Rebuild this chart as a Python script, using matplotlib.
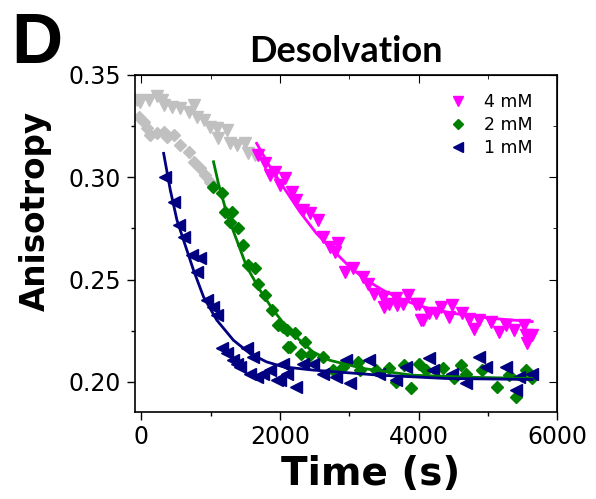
import matplotlib
matplotlib.use("Agg")
import matplotlib.pyplot as plt
from matplotlib.ticker import MultipleLocator, FormatStrFormatter

plt.rcParams["font.family"] = ["DejaVu Sans"]

# ---- data: fluorescence anisotropy vs time ----
# 4 mM: gray points before the jump, magenta after
t_4mM_pre = [-62, -14, 105, 225, 297, 320, 440, 560, 679, 751, 800, 895, 991,
             1087, 1110, 1230, 1278, 1374, 1493, 1541, 1637]
r_4mM_pre = [0.3378, 0.3370, 0.3378, 0.3398, 0.3378, 0.3353, 0.3345, 0.3337,
             0.3321, 0.3353, 0.3296, 0.3280, 0.3247, 0.3239, 0.3190, 0.3231,
             0.3166, 0.3158, 0.3166, 0.3117, 0.3109]
t_4mM = [1685, 1781, 1852, 1924, 1996, 2068, 2164, 2236, 2331, 2427, 2546,
         2618, 2714, 2786, 2833, 2929, 3049, 3193, 3265, 3360, 3480, 3500,
         3576, 3672, 3690, 3767, 3839, 3959, 4006, 4031, 4054, 4150, 4246,
         4318, 4437, 4485, 4628, 4725, 4796, 4868, 5036, 5156, 5252, 5371,
         5514, 5539, 5560, 5634]
r_4mM = [0.3109, 0.3068, 0.3011, 0.3027, 0.2962, 0.2995, 0.2929, 0.2889,
         0.2840, 0.2824, 0.2791, 0.2710, 0.2661, 0.2636, 0.2677, 0.2538,
         0.2555, 0.2514, 0.2481, 0.2432, 0.2416, 0.2367, 0.2383, 0.2408,
         0.2375, 0.2383, 0.2424, 0.2383, 0.2383, 0.2302, 0.2302, 0.2335,
         0.2335, 0.2367, 0.2318, 0.2375, 0.2335, 0.2310, 0.2261, 0.2302,
         0.2294, 0.2245, 0.2278, 0.2253, 0.2278, 0.2229, 0.2188, 0.2229]

# 2 mM: gray points before the jump, green after
t_2mM_pre = [-39, 33, 81, 129, 225, 320, 369, 465, 560, 679, 751, 847, 919, 991]
r_2mM_pre = [0.3296, 0.3272, 0.3239, 0.3207, 0.3215, 0.3223, 0.3198, 0.3207,
             0.3158, 0.3125, 0.3076, 0.3044, 0.3011, 0.2978]
t_2mM = [1039, 1158, 1206, 1278, 1302, 1397, 1469, 1541, 1637, 1685, 1780,
         1877, 1972, 2044, 2092, 2115, 2140, 2211, 2307, 2355, 2427, 2618,
         2762, 2905, 3121, 3145, 3385, 3576, 3672, 3791, 3887, 4006, 4102,
         4342, 4509, 4605, 4677, 4916, 5132, 5300, 5395, 5539, 5634]
r_2mM = [0.2954, 0.2921, 0.2832, 0.2783, 0.2832, 0.2750, 0.2669, 0.2571,
         0.2555, 0.2481, 0.2424, 0.2351, 0.2278, 0.2269, 0.2253, 0.2172,
         0.2171, 0.2237, 0.2139, 0.2196, 0.2131, 0.2122, 0.2058, 0.2074,
         0.2098, 0.2058, 0.2058, 0.2066, 0.2000, 0.2082, 0.1968, 0.2090,
         0.2058, 0.2066, 0.2017, 0.2082, 0.2041, 0.2058, 0.1976, 0.2033,
         0.1927, 0.2058, 0.2017]

# 1 mM: navy
t_1mM = [345, 464, 536, 607, 728, 847, 800, 943, 1039, 1087, 1158, 1230,
         1326, 1374, 1422, 1518, 1565, 1613, 1661, 1757, 1852, 1948, 1996,
         2044, 2092, 2236, 2331, 2474, 2618, 2810, 2954, 3001, 3288, 3432,
         3672, 3815, 4150, 4198, 4485, 4677, 4868, 4964, 5252, 5395, 5443,
         5634]
r_1mM = [0.3000, 0.2880, 0.2767, 0.2710, 0.2620, 0.2604, 0.2538, 0.2400,
         0.2367, 0.2326, 0.2164, 0.2140, 0.2106, 0.2090, 0.2074, 0.2164,
         0.2041, 0.2122, 0.2025, 0.2041, 0.2058, 0.2009, 0.2009, 0.2090,
         0.2041, 0.1976, 0.2090, 0.2090, 0.2041, 0.2025, 0.2106, 0.1993,
         0.2106, 0.2041, 0.2009, 0.2074, 0.2115, 0.2058, 0.2041, 0.1993,
         0.2122, 0.2074, 0.2074, 0.1960, 0.2025, 0.2041]

# fitted decay curves
fit_t_4mM = [1661, 1852, 2044, 2283, 2523, 2762, 3001, 3241, 3480, 3719,
             3959, 4150, 4500, 5000, 5634]
fit_r_4mM = [0.3166, 0.3052, 0.2954, 0.2832, 0.2726, 0.2644, 0.2563, 0.2498,
             0.2449, 0.2408, 0.2378, 0.2359, 0.2335, 0.2312, 0.2295]
fit_t_2mM = [1039, 1110, 1230, 1374, 1518, 1709, 1900, 2092, 2283, 2474,
             2714, 3193, 3911, 4868, 5634]
fit_r_2mM = [0.3076, 0.2970, 0.2824, 0.2693, 0.2563, 0.2449, 0.2351, 0.2269,
             0.2204, 0.2147, 0.2106, 0.2066, 0.2033, 0.2022, 0.2017]
fit_t_1mM = [320, 416, 512, 607, 751, 895, 1087, 1326, 1565, 1805, 2044,
             2474, 3432, 4390, 5634]
fit_r_1mM = [0.3117, 0.2938, 0.2791, 0.2693, 0.2546, 0.2416, 0.2302, 0.2204,
             0.2139, 0.2098, 0.2074, 0.2058, 0.2033, 0.2017, 0.2012]

labels = ["4 mM", "2 mM", "1 mM"]

C4, C2, C1, CG = "#FF00FF", "#008000", "#000080", "#C0C0C0"

fig = plt.figure(figsize=(5.96, 4.99), dpi=100)
ax = fig.add_axes([0.2257, 0.1743, 0.7097, 0.6754])

ax.plot(t_4mM_pre, r_4mM_pre, ls="none", marker="v", ms=8, color=CG, mec=CG)
ax.plot(t_2mM_pre, r_2mM_pre, ls="none", marker="D", ms=6, color=CG, mec=CG)

h4, = ax.plot(t_4mM, r_4mM, ls="none", marker="v", ms=8, color=C4, mec=C4, label=labels[0])
h2, = ax.plot(t_2mM, r_2mM, ls="none", marker="D", ms=6, color=C2, mec=C2, label=labels[1])
h1, = ax.plot(t_1mM, r_1mM, ls="none", marker="<", ms=8, color=C1, mec=C1, label=labels[2])

ax.plot(fit_t_4mM, fit_r_4mM, color=C4, lw=2)
ax.plot(fit_t_2mM, fit_r_2mM, color=C2, lw=2)
ax.plot(fit_t_1mM, fit_r_1mM, color=C1, lw=2)

ax.set_xlim(-100, 6000)
ax.set_ylim(0.1853, 0.35)
ax.xaxis.set_major_locator(MultipleLocator(2000))
ax.xaxis.set_minor_locator(MultipleLocator(1000))
ax.yaxis.set_major_locator(MultipleLocator(0.05))
ax.yaxis.set_minor_locator(MultipleLocator(0.025))
ax.yaxis.set_major_formatter(FormatStrFormatter("%.2f"))

ax.tick_params(axis="both", which="both", direction="out", width=1,
               labelsize=17, top=False, right=False)
ax.tick_params(which="major", length=6)
ax.tick_params(which="minor", length=3)

# mirrored inward ticks on the top and right spines
sec_x = ax.secondary_xaxis("top")
sec_x.xaxis.set_major_locator(MultipleLocator(2000))
sec_x.xaxis.set_minor_locator(MultipleLocator(1000))
sec_x.tick_params(which="both", direction="in", labeltop=False)
sec_x.tick_params(which="major", length=6)
sec_x.tick_params(which="minor", length=3)
sec_y = ax.secondary_yaxis("right")
sec_y.yaxis.set_major_locator(MultipleLocator(0.05))
sec_y.yaxis.set_minor_locator(MultipleLocator(0.025))
sec_y.tick_params(which="both", direction="in", labelright=False)
sec_y.tick_params(which="major", length=6)
sec_y.tick_params(which="minor", length=3)

for s in ax.spines.values():
    s.set_linewidth(1.2)

xl = ax.set_xlabel("Time (s)", fontsize=28, fontweight="bold")
xl.set_ha("left")
ax.xaxis.set_label_coords(0.346, -0.128)
ax.set_ylabel("Anisotropy", fontsize=23.5, fontweight="bold")
ax.yaxis.set_label_coords(-0.195, 0.596)
ax.set_title("Desolvation", fontsize=26, fontweight="bold", family="Lato", pad=9)

leg = ax.legend(handles=[h4, h2, h1], loc="upper right", frameon=False,
                bbox_to_anchor=(0.965, 0.978), prop={"size": 12.5},
                handletextpad=0.9, labelspacing=0.3, markerscale=0.85,
                handlelength=1.2, borderaxespad=0.2)

fig.text(0.019, 0.975, "D", fontsize=51, fontweight="bold",
         family="Liberation Sans", va="top", ha="left")

fig.savefig("out.png", dpi=100)
